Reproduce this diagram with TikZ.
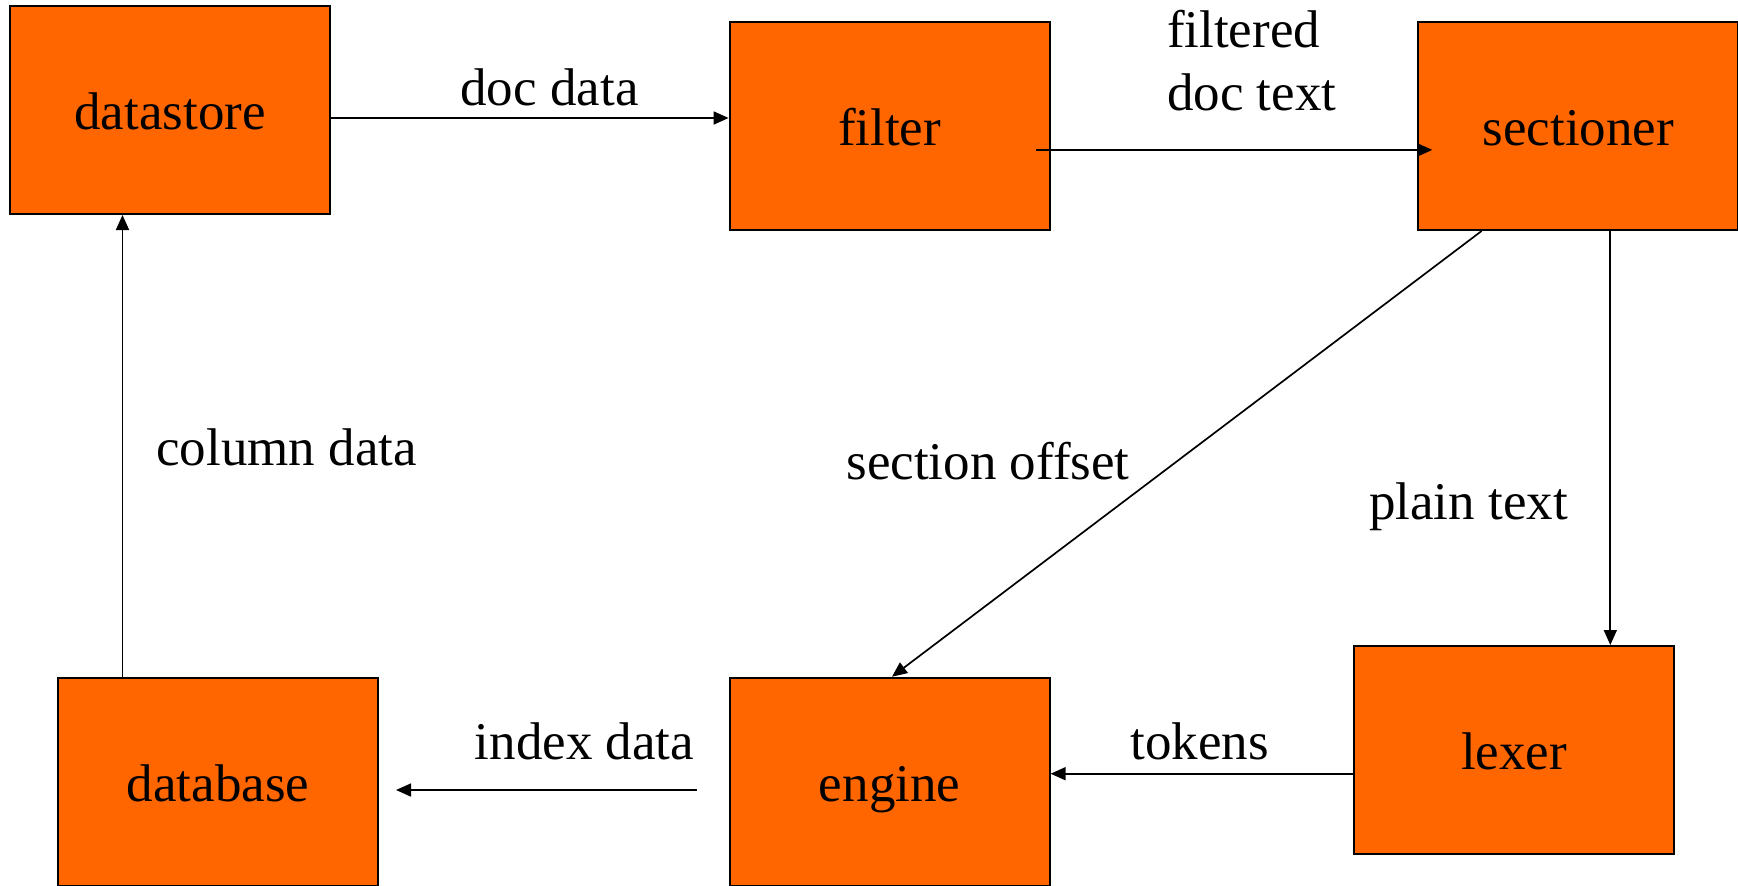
\documentclass[tikz,border=0pt]{standalone}
\usepackage{fontspec}
\setmainfont{Liberation Serif}
\usetikzlibrary{arrows.meta,calc}
\definecolor{procorange}{RGB}{255,102,0}
\begin{document}
\begin{tikzpicture}[x=0.5pt,y=-0.5pt,
  every node/.style={font=\fontsize{26.5pt}{31.5pt}\selectfont},
  stage/.style={draw=black,line width=1pt,fill=procorange,
    minimum width=160pt,minimum height=104pt,inner sep=0pt,
    text height=24pt,text depth=4.5pt},
  flow/.style={line width=0.85pt,-{Triangle[length=7.5pt,width=6.5pt]}},
  tag/.style={inner sep=0pt,anchor=base}]
\useasboundingbox (0,0) rectangle (1738,885);

% processing stages
\node[stage] (datastore) at (170,110)     {datastore};
\node[stage] (filter)    at (889.6,125.9) {filter};
\node[stage] (sectioner) at (1578.3,125.9){sectioner};
\node[stage] (database)  at (218,781.7)   {database};
\node[stage] (engine)    at (889.6,781.7) {engine};
\node[stage] (lexer)     at (1514,750)    {lexer};

% flow labels
\node[tag] (ldoc)   at (549.5,105)  {doc data};
\node[inner sep=0pt,anchor=north west,align=left] (lfilt) at (1166.7,10) {filtered\\doc text};
\node[tag] (lcol)   at (286.7,465)   {column data};
\node[tag] (lsec)   at (988,479.5)   {section offset};
\node[tag] (lplain) at (1468.5,519)  {plain text};
\node[tag] (ltok)   at (1199.8,759)  {tokens};
\node[tag] (lidx)   at (584.5,759)   {index data};

% data flows
\draw[flow] ([yshift=-4pt]datastore.east) -- ([yshift=-4pt]datastore.east -| filter.west);
\draw[flow] ([xshift=-7.5pt,yshift=-12pt]filter.east) -- ([xshift=7.5pt,yshift=-12pt]sectioner.west);
\draw[flow] ([xshift=16pt]sectioner.south) -- ([xshift=16pt]sectioner.south |- lexer.north);
\draw[flow] ([xshift=-48.3pt]sectioner.south) -- ([xshift=1.2pt]engine.north);
\draw[flow] ([yshift=-11.85pt]lexer.west) -- ([yshift=-11.85pt]lexer.west -| engine.east);
\coordinate (idxtail) at ([xshift=-16pt,yshift=-4.15pt]engine.west);
\coordinate (idxedge) at (idxtail -| database.east);
\draw[flow] (idxtail) -- ($(idxedge)+(17,0)$);
\draw[flow] ([xshift=-47.75pt]database.north) -- ([xshift=-47.75pt]database.north |- datastore.south);
\end{tikzpicture}
\end{document}
